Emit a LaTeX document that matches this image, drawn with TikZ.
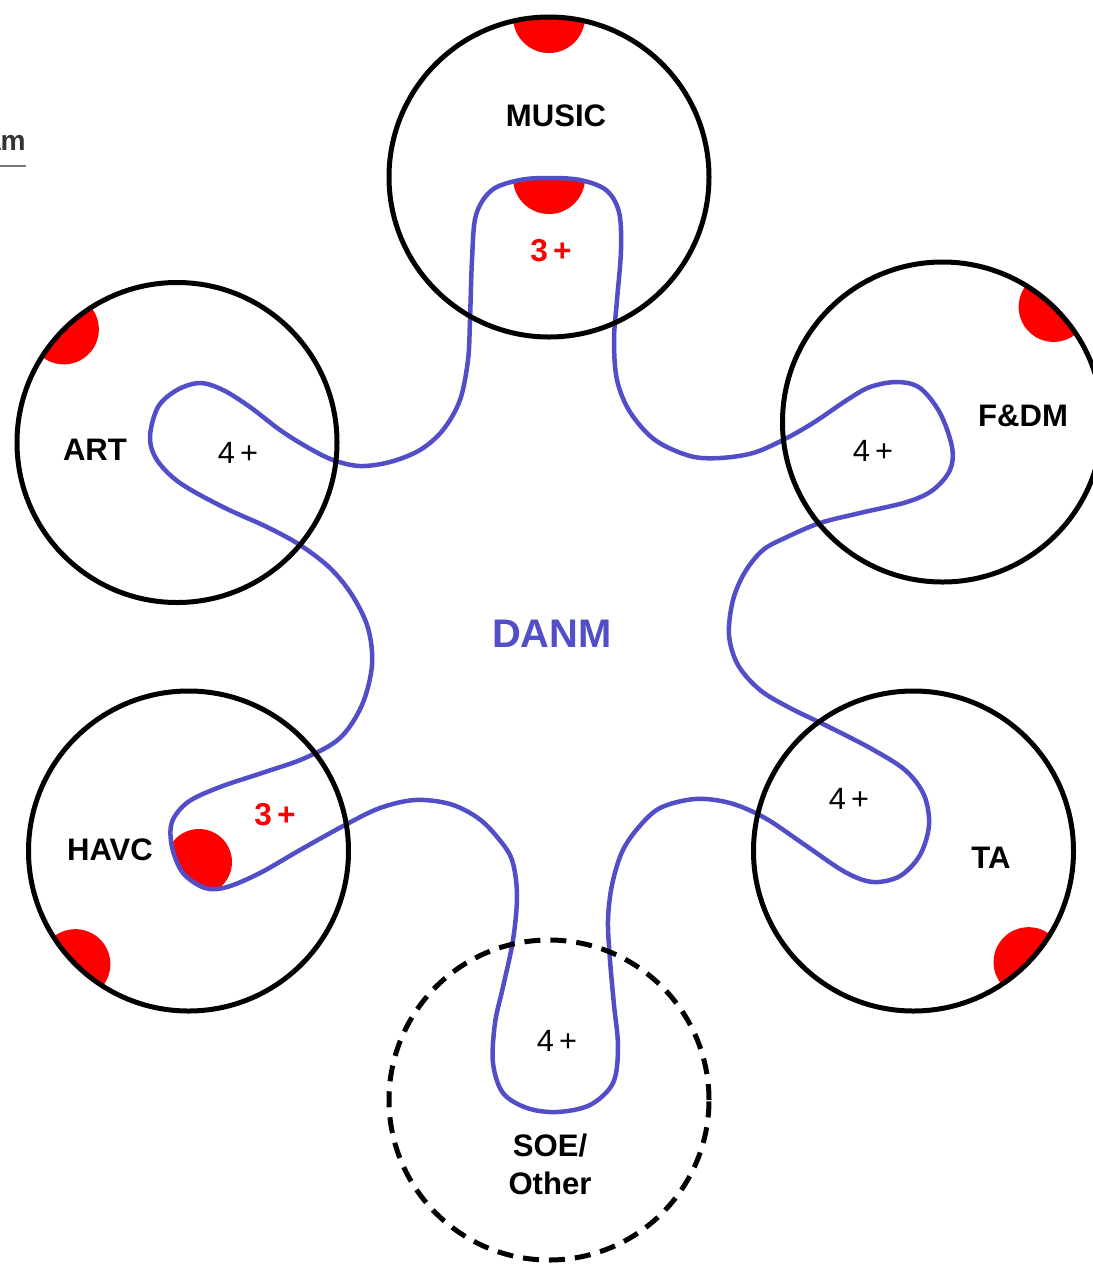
\documentclass[tikz,border=0pt]{standalone}
\usepackage{fontspec}
\setmainfont{Liberation Sans}
\usepackage{tikz}
\usepackage{xcolor}
\definecolor{danmblue}{RGB}{82,78,200}
\definecolor{tagline}{RGB}{120,120,120}
\tikzset{
  basenode/.style = {align=center, inner sep=0pt, text centered},
  ring_node/.style = {basenode, circle, draw=black, line width=1mm, minimum size=64mm},
  soe_node/.style = {ring_node, dash pattern=on 3.2mm off 2mm},
  dept_node/.style = {basenode, font=\fontsize{17.7}{21.6}\selectfont\bfseries},
  count_node/.style = {basenode, font=\fontsize{17.5}{21}\selectfont},
  req_node/.style = {basenode, red, font=\fontsize{18}{21}\selectfont\bfseries},
  danm_node/.style = {basenode, danmblue, font=\fontsize{22.7}{26}\selectfont\bfseries},
  tag_node/.style = {basenode, text=black!80, font=\fontsize{16}{18}\selectfont\bfseries},
  blob/.style = {fill=red},
  danm_line/.style = {draw=danmblue, line width=0.9mm},
}

\begin{document}
\begin{tikzpicture}[x=0.2mm, y=-0.2mm]
    \useasboundingbox (0,0) rectangle (1093,1264);
    \coordinate (music_c) at (549,177);
    \coordinate (art_c) at (177,442.5);
    \coordinate (fdm_c) at (942.5,422);
    \coordinate (havc_c) at (188.5,851);
    \coordinate (ta_c) at (913.5,851);
    \coordinate (soe_c) at (549,1100);

    \begin{scope}
        \clip (music_c) circle[radius=32mm];
        \fill[blob] (music_c) ++(90:32mm) circle[radius=7.2mm];
    \end{scope}
    \begin{scope}
        \clip (art_c) circle[radius=32mm];
        \fill[blob] (art_c) ++(135:32mm) circle[radius=7mm];
    \end{scope}
    \begin{scope}
        \clip (fdm_c) circle[radius=32mm];
        \fill[blob] (fdm_c) ++(46:32mm) circle[radius=7mm];
    \end{scope}
    \begin{scope}
        \clip (havc_c) circle[radius=32mm];
        \fill[blob] (havc_c) ++(225:32mm) circle[radius=7mm];
    \end{scope}
    \begin{scope}
        \clip (ta_c) circle[radius=32mm];
        \fill[blob] (ta_c) ++(316:32mm) circle[radius=7mm];
    \end{scope}
    \begin{scope}
        \clip (549,328) circle[radius=30mm];
        \fill[blob] (549,178) circle[radius=7.2mm];
    \end{scope}
    \begin{scope}
        \clip (226,836) circle[radius=11mm];
        \fill[blob] (199,862) circle[radius=6.6mm];
    \end{scope}

    \draw[danm_line] plot[smooth cycle, tension=0.55] coordinates {
        (470,320) (472,260) (476,215) (492,190) (520,180) (549,178) (580,180) (606,190)
        (619,212) (621,250) (617,300) (614,340) (617,380) (630,412) (655,440) (690,456)
        (720,458) (753,453) (783,440) (813,423) (847,400) (870,387) (897,382) (920,388)
        (940,413) (952,447) (950,470) (933,490) (907,502) (860,513) (820,523) (787,537)
        (763,550) (745,572) (733,600) (729,635) (738,665) (760,690) (790,708) (825,725)
        (870,748) (905,770) (924,795) (929,825) (920,855) (900,876) (873,882) (845,872)
        (805,845) (765,818) (730,803) (695,799) (660,808) (638,828) (622,852) (612,885)
        (608,920) (610,960) (614,1005) (618,1047) (613,1083) (590,1105) (557,1112) (527,1108)
        (503,1093) (493,1063) (495,1023) (503,987) (513,940) (517,895) (512,860) (498,838)
        (478,818) (450,804) (415,800) (380,808) (345,825) (300,850) (260,873) (227,887)
        (205,888) (183,873) (172,847) (172,822) (188,802) (220,787) (265,772) (305,758)
        (340,738) (362,705) (372,665) (368,628) (352,595) (330,568) (300,545) (267,527)
        (223,507) (180,483) (157,460) (150,437) (158,407) (177,390) (200,383) (223,390)
        (250,407) (280,430) (307,447) (333,460) (360,466) (390,462) (420,450) (443,430)
        (460,400) (468,360)
    };

    \node[ring_node] (music) at (music_c) {};
    \node[ring_node] (art) at (art_c) {};
    \node[ring_node] (fdm) at (fdm_c) {};
    \node[ring_node] (havc) at (havc_c) {};
    \node[ring_node] (ta) at (ta_c) {};
    \node[soe_node] (soe) at (soe_c) {};

    \node[dept_node] (music_lbl) at (556,116) {MUSIC};
    \node[dept_node] (art_lbl) at (95,450) {ART};
    \node[dept_node] (fdm_lbl) at (1023,416) {F\&DM};
    \node[dept_node] (havc_lbl) at (110,850) {HAVC};
    \node[dept_node] (ta_lbl) at (991,858) {TA};
    \node[dept_node] (soe_lbl) at (550,1164) {SOE/\\Other};
    \node[danm_node] (danm_lbl) at (552,634) {DANM};

    \node[count_node] (art_cnt) at (238,453) {4\,+};
    \node[count_node] (fdm_cnt) at (873,451) {4\,+};
    \node[count_node] (ta_cnt) at (849,799) {4\,+};
    \node[count_node] (soe_cnt) at (557,1041) {4\,+};
    \node[req_node] (music_req) at (551,251) {3\,+};
    \node[req_node] (havc_req) at (275,815) {3\,+};

    \node[tag_node, anchor=base east] (am_tag) at (26,150) {am};
    \draw[tagline, line width=0.3mm] (0,166) -- (26,166);
\end{tikzpicture}
\end{document}
